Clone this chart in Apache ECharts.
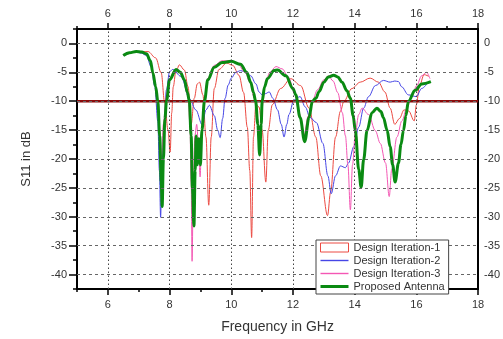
<!DOCTYPE html>
<html><head><meta charset="utf-8">
<script src="https://cdn.jsdelivr.net/npm/echarts@6/dist/echarts.min.js"></script>
<style>html,body{margin:0;padding:0;background:#fff}#c{width:503px;height:339px}</style>
</head><body><div id="c"></div>
<script>
// ---- axis / tick data ----
const xRange = [5, 18];
const yRange = [-42.5, 2.5];
const xMajorTicks = [6, 8, 10, 12, 14, 16, 18];
const yMajorTicks = [0, -5, -10, -15, -20, -25, -30, -35, -40];
const gridX = [6, 8, 10, 12, 14, 16];
const gridY = [0, -5, -10, -15, -20, -25, -30, -35, -40];
const threshold = -10;
const seriesNames = ['Design Iteration-1', 'Design Iteration-2', 'Design Iteration-3', 'Proposed Antenna'];

// ---- series values: [frequency GHz, S11 dB] ----
const iter1 = [[6.5,-2.1],[6.9,-1.5],[7.3,-1.4],[7.55,-2.5],[7.73,-5.1],[7.84,-10.2],[7.95,-15],[8.02,-18.8],[8.07,-12],[8.12,-7.5],
  [8.2,-5],[8.32,-3.7],[8.48,-4.6],[8.6,-7.5],[8.7,-14],[8.8,-9.5],[8.9,-7],[8.97,-6.7],[9.08,-8.9],[9.18,-16.2],
  [9.27,-28],[9.35,-16.2],[9.45,-7.8],[9.6,-4.5],[9.85,-3.4],[10.05,-3.8],[10.25,-5.5],[10.4,-8.5],[10.52,-14.5],[10.6,-22],
  [10.66,-33.6],[10.72,-16.2],[10.8,-10.5],[10.9,-11],[11.0,-15],[11.12,-24],[11.2,-15],[11.33,-10.6],[11.6,-7.8],[11.93,-6.1],
  [12.25,-7.3],[12.52,-11.2],[12.74,-16.2],[12.9,-22.9],[13.12,-29.8],[13.22,-25.7],[13.38,-16.2],[13.54,-11.7],[13.65,-10],[13.91,-7.8],
  [14.18,-6.7],[14.5,-6],[14.77,-6.7],[14.98,-8.4],[15.15,-11.2],[15.3,-14],[15.45,-13],[15.6,-11.5],[15.75,-11.7],[15.93,-13.4],
  [16.0,-10.6],[16.1,-7.3],[16.25,-5.4],[16.4,-5.7]];
const iter2 = [[6.5,-2.1],[6.7,-1.6],[6.92,-1.5],[7.1,-1.7],[7.25,-2.1],[7.4,-4],[7.52,-7.4],[7.62,-13.5],[7.67,-22],[7.71,-30.1],
  [7.75,-22],[7.8,-16.2],[7.9,-8],[8.0,-4.9],[8.1,-4.5],[8.37,-5.7],[8.65,-9.6],[8.85,-11.5],[9.06,-14.1],[9.18,-11.5],
  [9.29,-10.7],[9.45,-12.5],[9.56,-15],[9.64,-16.3],[9.72,-13],[9.8,-9.5],[9.9,-7.2],[10.0,-6],[10.15,-5],[10.3,-4.7],
  [10.45,-4.9],[10.63,-5.6],[10.8,-7],[10.9,-8.4],[11.0,-8.9],[11.1,-8.7],[11.23,-8.4],[11.35,-9.5],[11.5,-11.5],[11.62,-14],
  [11.71,-16.2],[11.8,-14],[11.87,-12.3],[12.03,-9.8],[12.23,-9.2],[12.4,-11],[12.55,-12.8],[12.76,-13.7],[12.97,-17.3],[13.13,-22.9],
  [13.24,-26],[13.38,-22.9],[13.54,-21.2],[13.7,-21.5],[13.8,-20.7],[13.97,-17.9],[14.13,-14.5],[14.29,-11.2],[14.45,-9.2],[14.67,-7.3],
  [14.93,-6.4],[15.15,-6.7],[15.3,-6.5],[15.42,-6.6],[15.52,-7.5],[15.74,-8.9],[16.0,-9.2],[16.17,-7.8],[16.38,-6.7]];
const iter3 = [[6.5,-2.1],[6.7,-1.6],[6.92,-1.4],[7.1,-1.5],[7.25,-1.8],[7.38,-3],[7.46,-5.1],[7.55,-7.5],[7.62,-10],[7.68,-15],
  [7.74,-20],[7.8,-14],[7.9,-9],[8.0,-6],[8.2,-4.5],[8.35,-5],[8.5,-6.5],[8.6,-9],[8.66,-14],[8.7,-24],
  [8.73,-37.7],[8.77,-24],[8.82,-16],[8.88,-14],[8.94,-18],[8.99,-23.1],[9.04,-16],[9.12,-10],[9.24,-6],[9.45,-3.8],
  [9.7,-3.0],[9.95,-3.0],[10.2,-3.5],[10.45,-5],[10.6,-6.7],[10.75,-9.5],[10.85,-13],[10.93,-17],[11.0,-11],[11.1,-7],
  [11.25,-5],[11.45,-4.0],[11.65,-4.4],[11.85,-5.8],[12.05,-8.5],[12.2,-12],[12.35,-16],[12.5,-12.5],[12.62,-10],[12.8,-8],
  [13.0,-6.3],[13.15,-5.6],[13.3,-6.5],[13.45,-8.5],[13.6,-12],[13.7,-16],[13.78,-21],[13.86,-28.8],[13.93,-21],[14.02,-15.6],
  [14.13,-12.3],[14.24,-11.2],[14.45,-12.3],[14.67,-15.1],[14.83,-17.3],[15.0,-20.7],[15.12,-26.5],[15.2,-21.8],[15.37,-16.2],[15.53,-13.4],
  [15.69,-11.2],[15.85,-9.2],[16.01,-7.3],[16.17,-5.6],[16.33,-5],[16.44,-6.1]];
const proposed = [[6.5,-2.1],[6.7,-1.6],[6.92,-1.4],[7.1,-1.5],[7.25,-1.8],[7.38,-3],[7.46,-5.1],[7.55,-7.5],[7.62,-10],[7.68,-16],
  [7.73,-24],[7.76,-28.2],[7.8,-20],[7.85,-13],[7.9,-10],[8.0,-6.3],[8.21,-4.5],[8.35,-5],[8.48,-6.3],[8.58,-8.5],
  [8.64,-10],[8.7,-16],[8.74,-25],[8.79,-31.6],[8.83,-22],[8.86,-16],[8.9,-21],[8.95,-16.5],[9.0,-21],[9.05,-15],
  [9.13,-10],[9.24,-6.3],[9.45,-4.1],[9.7,-3.3],[10.0,-3.1],[10.3,-3.6],[10.5,-5],[10.63,-6.7],[10.72,-8.5],[10.79,-10],
  [10.86,-14],[10.92,-19.3],[10.97,-14],[11.0,-10],[11.08,-7.5],[11.17,-6.1],[11.39,-4.7],[11.5,-4.6],[11.77,-5.6],[12.0,-7.8],
  [12.09,-8.9],[12.23,-12.8],[12.38,-17],[12.52,-12.8],[12.63,-10],[12.74,-9.5],[12.85,-8.3],[13.0,-6.7],[13.15,-5.8],[13.32,-5.5],
  [13.45,-5.8],[13.59,-6.7],[13.75,-8.2],[13.86,-9.5],[13.95,-12.5],[14.02,-15.1],[14.13,-21.8],[14.21,-24.9],[14.29,-20.1],[14.4,-15.1],
  [14.56,-12],[14.72,-11.2],[14.85,-11.8],[14.93,-12.8],[15.05,-15],[15.15,-17.9],[15.23,-21],[15.31,-24],[15.42,-20.7],[15.5,-17.5],
  [15.58,-15.1],[15.66,-12.5],[15.74,-10],[15.96,-8.1],[16.17,-7],[16.47,-6.6]];

const colors = ['#ec4a42', '#4646e6', '#f457b4', '#0a8a12'];
const FONT = 'Liberation Sans, Arial, sans-serif';
const labelStyle = {fontSize: 11, color: '#333', fontFamily: FONT};
const evenFmt = v => (Math.round(v) % 2 === 0 ? String(v) : '');
const fiveFmt = v => (Math.abs(v % 5) < 1e-9 ? String(v) : '');

const baseX = (pos, showLabel) => ({
  type: 'value', position: pos, min: xRange[0], max: xRange[1], interval: 1,
  axisLine: {show: true, onZero: false, lineStyle: {color: '#000', width: 2}},
  axisTick: {show: true, length: 3, lineStyle: {color: '#000', width: 1.5}},
  axisLabel: Object.assign({show: showLabel, formatter: evenFmt, margin: pos === 'top' ? 10 : 10}, labelStyle),
  splitLine: {show: false}
});
const majorX = pos => ({
  type: 'value', position: pos, min: xRange[0], max: xRange[1],
  axisLine: {show: false, onZero: false},
  axisTick: {show: true, length: 6, customValues: xMajorTicks, lineStyle: {color: '#000', width: 1.5}},
  axisLabel: {show: false}, splitLine: {show: false}
});

const chart = echarts.init(document.getElementById('c'), null, {renderer: 'canvas'});
const lineSeries = (name, data, i, width, z) => ({
  name, type: 'line', data, xAxisIndex: 0, yAxisIndex: 0,
  symbol: 'none', smooth: 0.35, smoothMonotone: 'x', z,
  lineStyle: {color: colors[i], width}, itemStyle: {color: colors[i]}
});
const legendIcons = [null, 'path://M0,0H28V1.4H0Z', 'path://M0,0H28V1.4H0Z', 'path://M0,0H28V3H0Z'];

chart.setOption({
  animation: false,
  backgroundColor: '#fff',
  grid: {left: 77, right: 24, top: 29, bottom: 43, containLabel: false},
  xAxis: [
    Object.assign(baseX('bottom', true), {name: 'Frequency in GHz', nameLocation: 'middle', nameGap: 31,
      nameTextStyle: {fontSize: 14, color: '#333', fontFamily: FONT}}),
    baseX('top', true),
    majorX('bottom'),
    majorX('top')
  ],
  yAxis: [
    {type: 'value', position: 'left', min: yRange[0], max: yRange[1], interval: 2.5,
      axisLine: {show: true, onZero: false, lineStyle: {color: '#000', width: 2}},
      axisTick: {show: true, length: 4, lineStyle: {color: '#000', width: 1.5}},
      axisLabel: Object.assign({formatter: fiveFmt, margin: 10}, labelStyle),
      splitLine: {show: false},
      name: 'S11 in dB', nameLocation: 'middle', nameGap: 44,
      nameTextStyle: {fontSize: 13, color: '#333', fontFamily: FONT}},
    {type: 'value', position: 'left', min: yRange[0], max: yRange[1],
      axisLine: {show: false, onZero: false},
      axisTick: {show: true, length: 8, customValues: yMajorTicks, lineStyle: {color: '#000', width: 1.5}},
      axisLabel: {show: false}, splitLine: {show: false}},
    {type: 'value', position: 'right', min: yRange[0], max: yRange[1], interval: 2.5,
      axisLine: {show: true, onZero: false, lineStyle: {color: '#000', width: 2}},
      axisTick: {show: false},
      axisLabel: Object.assign({formatter: fiveFmt, margin: 6}, labelStyle),
      splitLine: {show: false}}
  ],
  legend: {
    orient: 'vertical', left: 316, top: 240,
    data: seriesNames.map((n, i) => i === 0
      ? {name: n, icon: 'rect', itemStyle: {color: 'rgba(0,0,0,0)', borderColor: colors[0], borderWidth: 1}}
      : {name: n, icon: legendIcons[i], itemStyle: {color: colors[i], borderWidth: 0}}),
    itemWidth: 28, itemHeight: 9, itemGap: 2, itemTextGap: 3,
    padding: [2, 4, 2, 4],
    borderColor: '#444', borderWidth: 1, backgroundColor: '#fff',
    textStyle: {fontSize: 11, color: '#333', fontFamily: FONT},
    z: 20
  },
  series: [
    {type: 'line', data: [], xAxisIndex: 0, yAxisIndex: 0, silent: true, z: 1,
      markLine: {silent: true, symbol: ['none', 'none'], label: {show: false},
        lineStyle: {color: '#666', width: 1, type: [3, 3]},
        data: gridY.map(v => ({yAxis: v}))}},
    {type: 'line', data: [], xAxisIndex: 0, yAxisIndex: 0, silent: true, z: 1,
      markLine: {silent: true, symbol: ['none', 'none'], label: {show: false},
        lineStyle: {color: '#444', width: 1, type: [1.5, 2.5]},
        data: gridX.map(v => ({xAxis: v}))}},
    lineSeries(seriesNames[0], iter1, 0, 1, 2),
    lineSeries(seriesNames[1], iter2, 1, 1, 2),
    lineSeries(seriesNames[2], iter3, 2, 1, 2),
    {type: 'line', data: xRange.map(x => [x, threshold]), xAxisIndex: 0, yAxisIndex: 0, silent: true,
      symbol: 'none', z: 3, lineStyle: {color: '#8a0a0a', width: 2.5}},
    lineSeries(seriesNames[3], proposed, 3, 3, 4)
  ]
});
</script></body></html>
